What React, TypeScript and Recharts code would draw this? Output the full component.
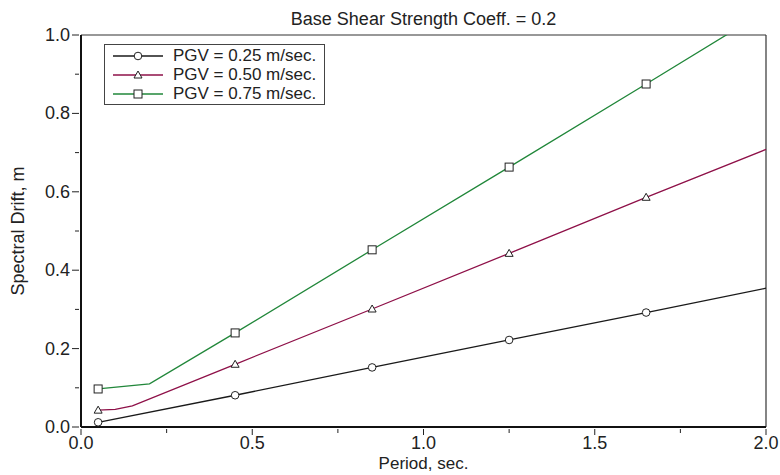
import React from "react";
import { LineChart, Line, XAxis, YAxis, ReferenceLine } from "recharts";

// marker positions (period, sec.)
const markerPeriods = [0.05, 0.45, 0.85, 1.25, 1.65];

// PGV = 0.25 m/sec.
const pgv25Periods = [0.05, 0.45, 0.85, 1.25, 1.65, 2.0];
const pgv25Drift = [0.012, 0.081, 0.152, 0.222, 0.292, 0.354];

// PGV = 0.50 m/sec.
const pgv50Periods = [0.05, 0.1, 0.15, 0.45, 0.85, 1.25, 1.65, 2.0];
const pgv50Drift = [0.043, 0.045, 0.054, 0.16, 0.301, 0.443, 0.586, 0.708];

// PGV = 0.75 m/sec.
const pgv75Periods = [0.05, 0.2, 0.45, 0.85, 1.25, 1.65, 2.0];
const pgv75Drift = [0.097, 0.11, 0.24, 0.452, 0.663, 0.875, 1.062];

const xTicks = [0, 0.25, 0.5, 0.75, 1, 1.25, 1.5, 1.75, 2];
const yTicks = [0, 0.1, 0.2, 0.3, 0.4, 0.5, 0.6, 0.7, 0.8, 0.9, 1];
const xMajor = [0, 0.5, 1, 1.5, 2];
const yMajor = [0, 0.2, 0.4, 0.6, 0.8, 1];

const FONT = "'Liberation Sans', Arial, sans-serif";
const FS = 18;

const toRows = (p: number[], v: number[]) => p.map((period, i) => ({ period, drift: v[i] }));

const series = [
  { name: "PGV = 0.25 m/sec.", color: "#1a1a1a", marker: "circle", data: toRows(pgv25Periods, pgv25Drift) },
  { name: "PGV = 0.50 m/sec.", color: "#8e1048", marker: "triangle", data: toRows(pgv50Periods, pgv50Drift) },
  { name: "PGV = 0.75 m/sec.", color: "#21873a", marker: "square", data: toRows(pgv75Periods, pgv75Drift) },
];

const isMajor = (list: number[], v: number) => list.some((m) => Math.abs(m - v) < 1e-6);

function Marker({ kind, cx, cy }: { kind: string; cx: number; cy: number }) {
  const st = { fill: "#fff", stroke: "#222", strokeWidth: 1 };
  if (kind === "circle") return <circle cx={cx} cy={cy} r={3.8} {...st} />;
  if (kind === "triangle")
    return <polygon points={`${cx},${cy - 4} ${cx - 4},${cy + 3} ${cx + 4},${cy + 3}`} {...st} />;
  return <rect x={cx - 4} y={cy - 4} width={8} height={8} {...st} />;
}

const makeDot = (kind: string) => (props: any) => {
  const { cx, cy, payload, index } = props;
  if (!markerPeriods.some((m) => Math.abs(m - payload.period) < 1e-6)) return <g key={index} />;
  return (
    <g key={index}>
      <Marker kind={kind} cx={cx} cy={cy} />
    </g>
  );
};

const XTick = (props: any) => {
  const { x, y, payload } = props;
  const major = isMajor(xMajor, payload.value);
  return (
    <g>
      <line x1={x} y1={y} x2={x} y2={y + (major ? 6 : 4)} stroke="#222" />
      {major && (
        <text x={x} y={y + 20} textAnchor="middle" fontSize={FS} fill="#222" fontFamily={FONT}>
          {payload.value.toFixed(1)}
        </text>
      )}
    </g>
  );
};

const YTick = (props: any) => {
  const { x, y, payload } = props;
  const major = isMajor(yMajor, payload.value);
  return (
    <g>
      <line x1={x} y1={y} x2={x - (major ? 7 : 4)} y2={y} stroke="#222" />
      {major && (
        <text x={x - 9} y={y + 6} textAnchor="end" fontSize={FS} fill="#222" fontFamily={FONT}>
          {payload.value.toFixed(1)}
        </text>
      )}
    </g>
  );
};

const LegendBox = () => (
  <div
    style={{
      position: "absolute",
      left: 104,
      top: 44,
      border: "1px solid #444",
      background: "#fff",
      padding: "1px 8px 1px 8px",
      fontFamily: FONT,
      fontSize: 17,
      color: "#222",
      lineHeight: "19px",
    }}
  >
    {series.map((s) => (
      <div key={s.name} style={{ display: "flex", alignItems: "center", height: 19 }}>
        <svg width={50} height={14} style={{ marginRight: 10 }}>
          <line x1={0} y1={7} x2={50} y2={7} stroke={s.color} strokeWidth={1.3} />
          <Marker kind={s.marker} cx={25} cy={7} />
        </svg>
        <span>{s.name}</span>
      </div>
    ))}
  </div>
);

export default function App() {
  return (
    <div style={{ position: "relative", width: 780, height: 475, background: "#fff" }}>
      <style>{`body{margin:0}`}</style>
      <LineChart width={780} height={475} margin={{ top: 35, right: 14, bottom: 18, left: 0 }}>
        <XAxis
          dataKey="period"
          type="number"
          domain={[0, 2]}
          ticks={xTicks}
          tick={<XTick />}
          tickLine={false}
          tickSize={0}
          interval={0}
          height={30}
          axisLine={{ stroke: "#111", strokeWidth: 2 }}
          allowDuplicatedCategory={false}
          label={{ value: "Period, sec.", position: "bottom", offset: 0, fontSize: 17, fill: "#222", fontFamily: FONT }}
        />
        <YAxis
          type="number"
          domain={[0, 1]}
          ticks={yTicks}
          tick={<YTick />}
          tickLine={false}
          tickSize={0}
          interval={0}
          width={81}
          allowDataOverflow
          axisLine={{ stroke: "#111", strokeWidth: 2 }}
          label={{
            value: "Spectral Drift, m",
            angle: -90,
            position: "insideLeft",
            offset: 18,
            fontSize: FS,
            fill: "#222",
            fontFamily: FONT,
            style: { textAnchor: "middle" },
          }}
        />
        <ReferenceLine
          y={1}
          stroke="#333"
          strokeWidth={1.2}
          label={{ value: "Base Shear Strength Coeff. = 0.2", position: "top", offset: 10, fontSize: FS, fill: "#222", fontFamily: FONT }}
        />
        <ReferenceLine x={2} stroke="#333" strokeWidth={1.2} />
        {series.map((s) => (
          <Line
            key={s.name}
            data={s.data}
            dataKey="drift"
            name={s.name}
            type="linear"
            stroke={s.color}
            strokeWidth={1.3}
            dot={makeDot(s.marker)}
            activeDot={false}
            isAnimationActive={false}
          />
        ))}
      </LineChart>
      <LegendBox />
    </div>
  );
}
